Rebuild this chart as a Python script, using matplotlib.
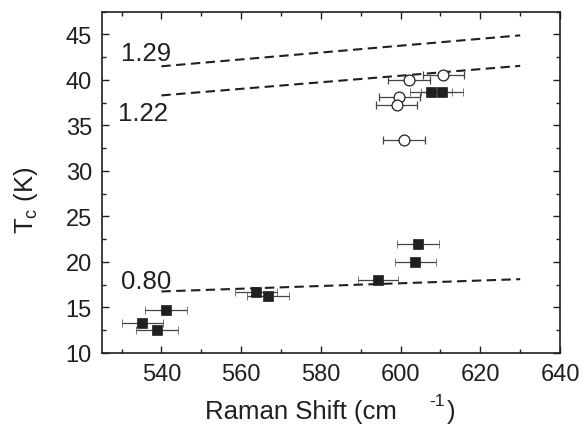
import numpy as np
import matplotlib
matplotlib.use("Agg")
import matplotlib.pyplot as plt
from matplotlib.ticker import MultipleLocator

plt.rcParams['font.family'] = ['Liberation Sans', 'DejaVu Sans']
plt.rcParams['mathtext.fontset'] = 'custom'
plt.rcParams['mathtext.rm'] = 'Liberation Sans'
plt.rcParams['mathtext.it'] = 'Liberation Sans'

# filled squares (Raman shift, Tc)
sq_x = [607.6, 610.4, 604.4, 603.7, 594.3, 563.7, 566.7, 541.2, 535.2, 538.9]
sq_y = [38.7, 38.7, 22.0, 20.0, 18.0, 16.7, 16.3, 14.7, 13.3, 12.5]
sq_xerr = [5.2, 5.2, 5.2, 5.2, 5.1, 5.2, 5.2, 5.2, 5.2, 5.2]

# open circles
ci_x = [602.1, 610.7, 599.7, 599.0, 600.8]
ci_y = [40.0, 40.5, 38.1, 37.2, 33.4]
ci_xerr = [5.2, 5.1, 5.2, 5.2, 5.2]

# dashed guide lines (endpoints) and their labels
line_x = [540, 630]
line_129 = [41.5, 44.9]
line_122 = [38.3, 41.55]
line_080 = [16.75, 18.1]
line_labels = ['1.29', '1.22', '0.80']
label_pos = [(536.2, 43.0), (535.4, 36.4), (536.2, 17.9)]

col = '#231f20'

fig = plt.figure(figsize=(5.84, 4.31), dpi=100)
ax = fig.add_axes([0.174, 0.179, 0.785, 0.7915])

for ly in [line_129, line_122, line_080]:
    ax.plot(line_x, ly, color=col, lw=1.5, dashes=(4.5, 2.6), zorder=1)

ax.errorbar(ci_x, ci_y, xerr=ci_xerr, fmt='o', ms=7.8, mfc='white', mec=col,
            mew=0.9, ecolor='#444444', elinewidth=0.9, capsize=3, capthick=0.9, zorder=3)
ax.errorbar(sq_x, sq_y, xerr=sq_xerr, fmt='s', ms=7.2, mfc=col, mec=col,
            mew=0.5, ecolor='#444444', elinewidth=0.9, capsize=3, capthick=0.9, zorder=3)

for lab, (tx, ty) in zip(line_labels, label_pos):
    ax.text(tx, ty, lab, fontsize=18.5, color=col, ha='center', va='center')

ax.set_xlim(525, 640)
ax.set_ylim(10, 47.5)
ax.xaxis.set_major_locator(MultipleLocator(20))
ax.xaxis.set_minor_locator(MultipleLocator(10))
ax.yaxis.set_major_locator(MultipleLocator(5))
ax.yaxis.set_minor_locator(MultipleLocator(2.5))
ax.set_xticks(np.arange(540, 641, 20))
ax.tick_params(which='both', direction='in', top=True, right=True, colors=col,
               labelsize=17, width=1)
ax.tick_params(which='major', length=5, pad=7)
ax.tick_params(which='minor', length=3)
for s in ax.spines.values():
    s.set_color(col)
    s.set_linewidth(1.2)

# x label in pieces, the superscript sits well apart as in the original
fig.text(397 / 584, 0.045, 'Raman Shift (cm', fontsize=18.5, color=col,
         ha='right', va='center')
fig.text(437 / 584, 0.068, '-1', fontsize=12.5, color=col, ha='center', va='center')
fig.text(451 / 584, 0.045, ')', fontsize=18.5, color=col, ha='center', va='center')
fig.text(0.045, 0.535, r'$\mathrm{T}_{\mathrm{c}}$ (K)', fontsize=18.5, color=col,
         rotation=90, ha='center', va='center')

fig.savefig('out.png', dpi=100)
